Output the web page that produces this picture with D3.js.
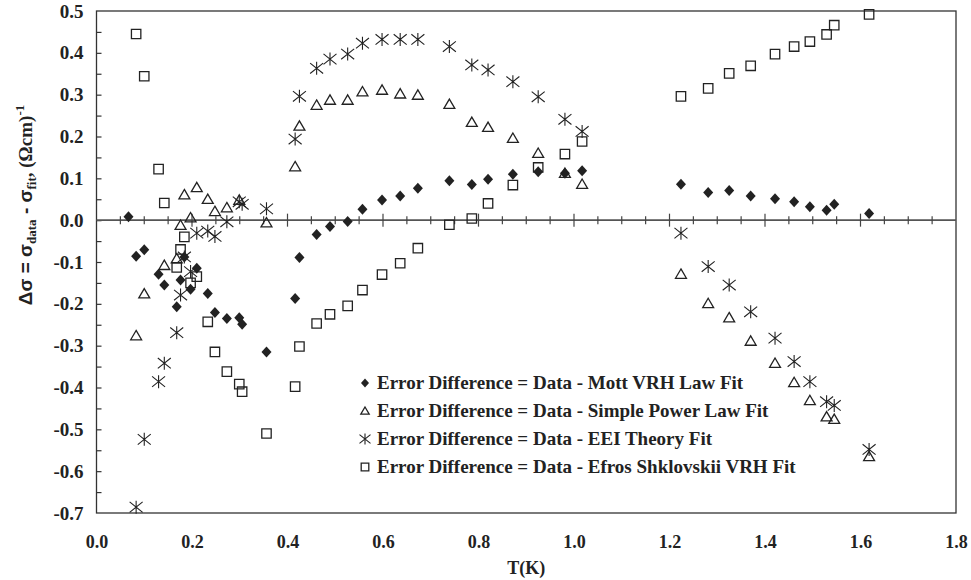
<!DOCTYPE html>
<html>
<head>
<meta charset="utf-8">
<script src="https://cdn.jsdelivr.net/npm/d3@7"></script>
<style>
  body { margin: 0; background: #fff; }
  text { font-family: 'Liberation Serif', 'Times New Roman', serif; font-weight: bold; fill: #222; }
</style>
</head>
<body>
<svg id="chart" width="971" height="580"></svg>
<script>
// temperatures (K) shared by all four fits
const temps = [
  0.067, 0.083, 0.1, 0.13, 0.142, 0.168, 0.176, 0.184, 0.197, 0.21,
  0.233, 0.248, 0.273, 0.299, 0.305, 0.356, 0.416, 0.425, 0.461, 0.489,
  0.526, 0.557, 0.598, 0.636, 0.673, 0.739, 0.786, 0.82, 0.872, 0.925,
  0.981, 1.017, 1.224, 1.281, 1.325, 1.37, 1.421, 1.461, 1.494, 1.529,
  1.545, 1.618,
];

// data - fit, one value per temperature (null = not plotted)
const mottVrh = [
  0.008, -0.086, -0.071, -0.129, -0.155, -0.207, -0.143, -0.088, -0.165, -0.115,
  -0.175, -0.221, -0.235, -0.233, -0.249, -0.315, -0.187, -0.089, -0.034, -0.015,
  -0.003, 0.026, 0.048, 0.058, 0.076, 0.094, 0.085, 0.098, 0.11, 0.116,
  0.112, 0.118, 0.086, 0.066, 0.071, 0.058, 0.051, 0.044, 0.032, 0.024,
  0.038, 0.016,
];
const powerLaw = [
  null, -0.276, -0.176, null, -0.108, -0.092, -0.012, 0.061, 0.006, 0.078,
  0.05, 0.021, 0.03, 0.048, null, -0.006, 0.128, 0.225, 0.275, 0.287,
  0.287, 0.307, 0.311, 0.302, 0.299, 0.277, 0.234, 0.222, 0.196, 0.16,
  0.112, 0.086, -0.129, -0.199, -0.233, -0.289, -0.342, -0.388, -0.431, -0.47,
  -0.476, -0.565,
];
const eeiTheory = [
  null, -0.686, -0.524, -0.386, -0.342, -0.269, -0.179, -0.088, -0.123, -0.031,
  -0.026, -0.039, -0.004, 0.044, 0.038, 0.027, 0.194, 0.296, 0.363, 0.385,
  0.397, 0.423, 0.432, 0.432, 0.432, 0.415, 0.371, 0.359, 0.331, 0.295,
  0.241, 0.212, -0.031, -0.111, -0.155, -0.219, -0.282, -0.338, -0.386, -0.434,
  -0.443, -0.548,
];
const efrosVrh = [
  null, 0.445, 0.344, 0.122, 0.041, -0.113, -0.07, -0.04, -0.15, -0.135,
  -0.243, -0.315, -0.362, -0.392, -0.41, -0.51, -0.398, -0.302, -0.247, -0.225,
  -0.205, -0.167, -0.13, -0.103, -0.067, -0.011, 0.004, 0.04, 0.084, 0.126,
  0.158, 0.188, 0.296, 0.315, 0.351, 0.369, 0.397, 0.415, 0.427, 0.444,
  0.466, 0.492,
];

const seriesNames = [
  'Error Difference = Data - Mott VRH Law Fit',
  'Error Difference = Data - Simple Power Law Fit',
  'Error Difference = Data - EEI Theory Fit',
  'Error Difference = Data - Efros Shklovskii VRH Fit',
];
const seriesKinds = ['diamond', 'triangle', 'asterisk', 'square'];
const seriesValues = [mottVrh, powerLaw, eeiTheory, efrosVrh];

const xTicks = [0, 0.2, 0.4, 0.6, 0.8, 1.0, 1.2, 1.4, 1.6, 1.8];
const yTicks = [0.5, 0.4, 0.3, 0.2, 0.1, 0, -0.1, -0.2, -0.3, -0.4, -0.5, -0.6, -0.7];

const plotLeft = 96.5, plotRight = 956, plotTop = 11, plotBottom = 513;
const ink = '#222';

const svg = d3.select('#chart');
const x = d3.scaleLinear().domain([0, 1.8]).range([plotLeft, plotRight]);
const y = d3.scaleLinear().domain([-0.7, 0.5]).range([plotBottom, plotTop]);

function markerPath(kind, s) {
  const p = d3.path();
  if (kind === 'diamond') {
    p.moveTo(0, -s * 1.1); p.lineTo(s, 0); p.lineTo(0, s * 1.1); p.lineTo(-s, 0); p.closePath();
  } else if (kind === 'triangle') {
    p.moveTo(0, -s); p.lineTo(s * 1.05, s * 0.8); p.lineTo(-s * 1.05, s * 0.8); p.closePath();
  } else if (kind === 'square') {
    p.rect(-s, -s, 2 * s, 2 * s);
  } else {
    p.moveTo(0, -s); p.lineTo(0, s);
    p.moveTo(-s, -s * 0.8); p.lineTo(s, s * 0.8);
    p.moveTo(-s, s * 0.8); p.lineTo(s, -s * 0.8);
  }
  return p.toString();
}

function drawMarker(sel, kind, s) {
  sel.append('path')
    .attr('d', markerPath(kind, s))
    .attr('fill', kind === 'diamond' ? ink : 'none')
    .attr('stroke', kind === 'diamond' ? 'none' : ink)
    .attr('stroke-width', kind === 'asterisk' ? 1.1 : 1.3);
}

const markerSize = { diamond: 5, triangle: 5.2, asterisk: 6.5, square: 4.7 };
const legendSize = { diamond: 4, triangle: 4, asterisk: 5.5, square: 3.8 };

// frame
svg.append('rect')
  .attr('x', plotLeft).attr('y', plotTop)
  .attr('width', plotRight - plotLeft).attr('height', plotBottom - plotTop)
  .attr('fill', 'none').attr('stroke', '#333').attr('stroke-width', 1.3);

// y axis labels + inside ticks
svg.append('g')
  .attr('transform', `translate(${plotLeft},0)`)
  .call(d3.axisLeft(y).tickValues(yTicks).tickSize(0).tickPadding(13))
  .call((g) => g.select('.domain').remove())
  .call((g) => g.selectAll('text').attr('font-size', 19).attr('fill', ink)
    .text((d) => d3.format('.1f')(d).replace('−', '-')));

svg.append('g')
  .attr('transform', `translate(${plotLeft},0)`)
  .call(d3.axisRight(y).tickValues(d3.range(-0.65, 0.5, 0.05)).tickSize(5).tickFormat(''))
  .call((g) => g.select('.domain').remove())
  .call((g) => g.selectAll('line').attr('stroke', '#333').attr('stroke-width', 1.2));

// x axis labels
svg.append('g')
  .attr('transform', `translate(0,${plotBottom})`)
  .call(d3.axisBottom(x).tickValues(xTicks).tickSize(0).tickPadding(22).tickFormat(d3.format('.1f')))
  .call((g) => g.select('.domain').remove())
  .call((g) => g.selectAll('text').attr('font-size', 18).attr('fill', ink));

// zero line with crossing ticks
const zeroY = y(0);
svg.append('line')
  .attr('x1', plotLeft).attr('x2', plotRight)
  .attr('y1', zeroY).attr('y2', zeroY)
  .attr('stroke', '#555').attr('stroke-width', 1.6);

const zeroTicks = d3.range(1, 36).map((i) => i * 0.05);
svg.append('g').selectAll('line')
  .data(zeroTicks)
  .join('line')
  .attr('x1', (d) => x(d)).attr('x2', (d) => x(d))
  .attr('y1', (d, i) => zeroY - ((i + 1) % 4 === 0 ? 6.5 : 4))
  .attr('y2', (d, i) => zeroY + ((i + 1) % 4 === 0 ? 6.5 : 4))
  .attr('stroke', '#444').attr('stroke-width', 1.2);

// data markers
seriesValues.forEach((values, si) => {
  const kind = seriesKinds[si];
  const pts = temps.map((t, i) => [t, values[i]]).filter((d) => d[1] !== null);
  svg.append('g').selectAll('g')
    .data(pts)
    .join('g')
    .attr('transform', (d) => `translate(${x(d[0])},${y(d[1])})`)
    .each(function () { drawMarker(d3.select(this), kind, markerSize[kind]); });
});

// legend
const legend = svg.append('g');
seriesNames.forEach((name, i) => {
  const cy = 383 + i * 28;
  const row = legend.append('g');
  drawMarker(row.append('g').attr('transform', `translate(365,${cy})`), seriesKinds[i], legendSize[seriesKinds[i]]);
  row.append('text')
    .attr('x', 377).attr('y', cy + 6)
    .attr('font-size', 19)
    .text(name);
});

// axis titles
svg.append('text')
  .attr('x', (plotLeft + plotRight) / 2).attr('y', 574)
  .attr('text-anchor', 'middle')
  .attr('font-size', 18)
  .text('T(K)');

const yTitle = svg.append('text')
  .attr('transform', 'translate(32,205) rotate(-90)')
  .attr('text-anchor', 'middle')
  .attr('font-size', 19);
const sans = "'Liberation Sans', Arial, sans-serif";
yTitle.append('tspan').attr('font-family', sans).text('Δσ = σ');
yTitle.append('tspan').attr('font-size', 13).attr('dy', 4).text('data');
yTitle.append('tspan').attr('dy', -4).attr('font-family', sans).text(' - σ');
yTitle.append('tspan').attr('font-size', 13).attr('dy', 4).text('fit');
yTitle.append('tspan').attr('dy', -4).text(', (Ωcm)');
yTitle.append('tspan').attr('font-size', 13).attr('dy', -8).text('-1');
</script>
</body>
</html>
